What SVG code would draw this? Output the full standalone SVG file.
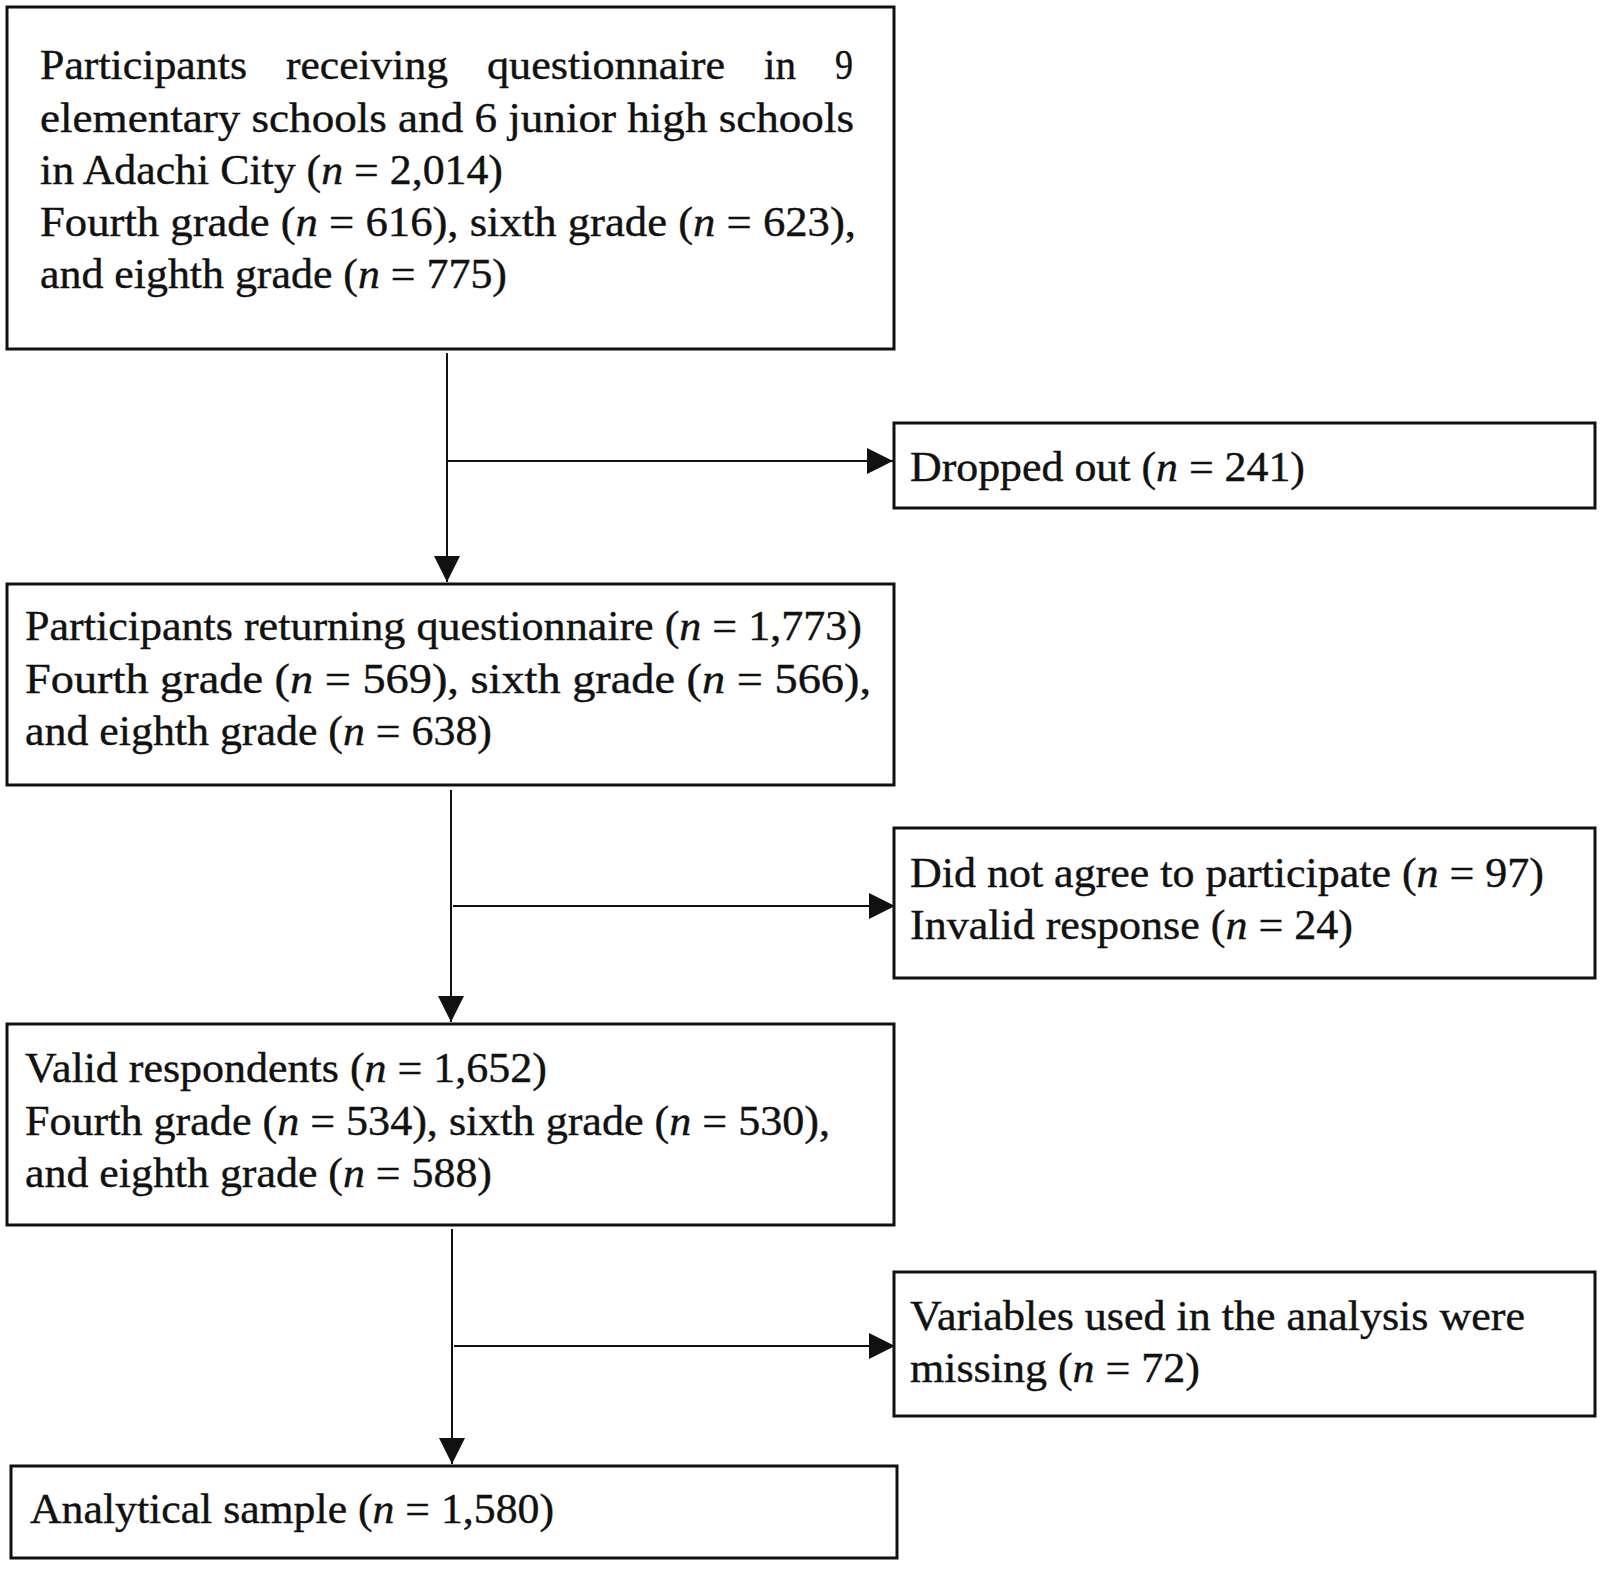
<svg xmlns="http://www.w3.org/2000/svg" width="1606" height="1570" viewBox="0 0 1606 1570">
<style>
.box{fill:#fff;stroke:#111;stroke-width:3}
.t{font-family:"Liberation Serif","Times New Roman",serif;font-size:42px;fill:#111;stroke:#111;stroke-width:0.4}
.i{font-style:italic}
.c{fill:none;stroke:#111;stroke-width:2}
</style>
<defs>
<marker id="ah" viewBox="0 0 26 26" refX="26" refY="13" markerWidth="26" markerHeight="26" markerUnits="userSpaceOnUse" orient="auto">
<path d="M0,0 L26,13 L0,26 Z" fill="#111"/>
</marker>
</defs>
<rect width="1606" height="1570" fill="#fff"/>
<g id="connectors">
<line class="c" x1="447" y1="353" x2="447" y2="582" marker-end="url(#ah)"/>
<line class="c" x1="447" y1="461" x2="893" y2="461" marker-end="url(#ah)"/>
<line class="c" x1="451" y1="790" x2="451" y2="1022" marker-end="url(#ah)"/>
<line class="c" x1="453" y1="906" x2="895" y2="906" marker-end="url(#ah)"/>
<line class="c" x1="452" y1="1229" x2="452" y2="1464" marker-end="url(#ah)"/>
<line class="c" x1="454" y1="1346" x2="895" y2="1346" marker-end="url(#ah)"/>
</g>
<g id="n1">
<rect class="box" x="7" y="7" width="887" height="342"/>
<text class="t" x="40" y="79" textLength="207" lengthAdjust="spacingAndGlyphs">Participants</text>
<text class="t" x="286" y="79" textLength="162" lengthAdjust="spacingAndGlyphs">receiving</text>
<text class="t" x="487" y="79" textLength="238" lengthAdjust="spacingAndGlyphs">questionnaire</text>
<text class="t" x="764" y="79" textLength="32" lengthAdjust="spacingAndGlyphs">in</text>
<text class="t" x="835" y="79" textLength="18" lengthAdjust="spacingAndGlyphs">9</text>
<text class="t" x="40" y="132" textLength="814" lengthAdjust="spacingAndGlyphs">elementary schools and 6 junior high schools</text>
<text class="t" x="40" y="184" textLength="463" lengthAdjust="spacingAndGlyphs">in Adachi City (<tspan class="i">n</tspan> = 2,014)</text>
<text class="t" x="40" y="236" textLength="816" lengthAdjust="spacingAndGlyphs">Fourth grade (<tspan class="i">n</tspan> = 616), sixth grade (<tspan class="i">n</tspan> = 623),</text>
<text class="t" x="40" y="288" textLength="467" lengthAdjust="spacingAndGlyphs">and eighth grade (<tspan class="i">n</tspan> = 775)</text>
</g>
<g id="n2">
<rect class="box" x="894" y="423" width="701" height="85"/>
<text class="t" x="910" y="481" textLength="395" lengthAdjust="spacingAndGlyphs">Dropped out (<tspan class="i">n</tspan> = 241)</text>
</g>
<g id="n3">
<rect class="box" x="7" y="584" width="887" height="201"/>
<text class="t" x="25" y="640" textLength="837" lengthAdjust="spacingAndGlyphs">Participants returning questionnaire (<tspan class="i">n</tspan> = 1,773)</text>
<text class="t" x="25" y="693" textLength="846" lengthAdjust="spacingAndGlyphs">Fourth grade (<tspan class="i">n</tspan> = 569), sixth grade (<tspan class="i">n</tspan> = 566),</text>
<text class="t" x="25" y="745" textLength="467" lengthAdjust="spacingAndGlyphs">and eighth grade (<tspan class="i">n</tspan> = 638)</text>
</g>
<g id="n4">
<rect class="box" x="894" y="828" width="701" height="150"/>
<text class="t" x="910" y="887" textLength="634" lengthAdjust="spacingAndGlyphs">Did not agree to participate (<tspan class="i">n</tspan> = 97)</text>
<text class="t" x="910" y="939" textLength="443" lengthAdjust="spacingAndGlyphs">Invalid response (<tspan class="i">n</tspan> = 24)</text>
</g>
<g id="n5">
<rect class="box" x="7" y="1024" width="887" height="201"/>
<text class="t" x="25" y="1082" textLength="522" lengthAdjust="spacingAndGlyphs">Valid respondents (<tspan class="i">n</tspan> = 1,652)</text>
<text class="t" x="25" y="1135" textLength="805" lengthAdjust="spacingAndGlyphs">Fourth grade (<tspan class="i">n</tspan> = 534), sixth grade (<tspan class="i">n</tspan> = 530),</text>
<text class="t" x="25" y="1187" textLength="467" lengthAdjust="spacingAndGlyphs">and eighth grade (<tspan class="i">n</tspan> = 588)</text>
</g>
<g id="n6">
<rect class="box" x="894" y="1272" width="701" height="144"/>
<text class="t" x="910" y="1330" textLength="615" lengthAdjust="spacingAndGlyphs">Variables used in the analysis were</text>
<text class="t" x="910" y="1382" textLength="290" lengthAdjust="spacingAndGlyphs">missing (<tspan class="i">n</tspan> = 72)</text>
</g>
<g id="n7">
<rect class="box" x="11" y="1466" width="886" height="92"/>
<text class="t" x="30" y="1523" textLength="524" lengthAdjust="spacingAndGlyphs">Analytical sample (<tspan class="i">n</tspan> = 1,580)</text>
</g>
</svg>
